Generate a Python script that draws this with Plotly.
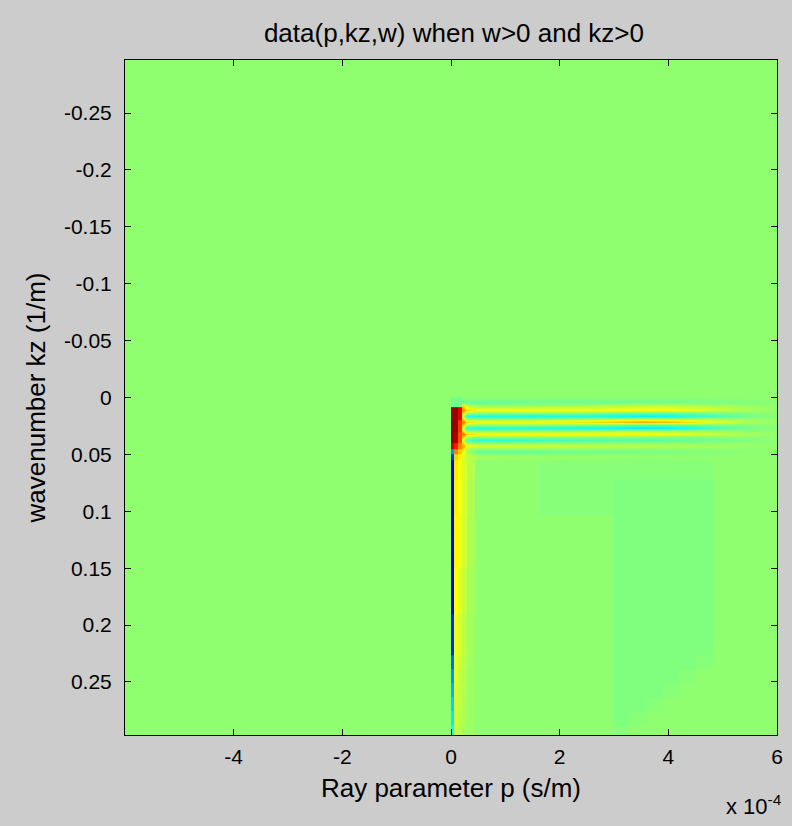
import plotly.graph_objects as go

# ---------------- data ----------------
# ray parameter p in units of 1e-4 s/m, wavenumber kz in 1/m
P_EDGES = [-6, 0, 0.06, 0.13, 0.2, 0.3, 0.45, 1.6, 3.0, 3.3, 3.6, 3.9, 4.2, 4.5, 4.83, 6]
KZ_EDGES = [-0.3, 0.0, 0.0085, 0.02, 0.03, 0.04, 0.045, 0.05, 0.055, 0.072, 0.103,
            0.15, 0.19, 0.226, 0.2383, 0.2507, 0.263, 0.2753, 0.2877, 0.3]
BASE_Z = [
    [0, 0, 0, 0, 0, 0, 0, 0, 0, 0, 0, 0, 0, 0, 0],
    [0, -0.06, -0.06, -0.06, 0, 0, 0, 0, 0, 0, 0, 0, 0, 0, 0],
    [0, 0.88, 0.9, 0.75, 0.3, 0, 0, 0, 0, 0, 0, 0, 0, 0, 0],
    [0, 0.9, 0.9, 0.6, 0.3, 0, 0, 0, 0, 0, 0, 0, 0, 0, 0],
    [0, 0.9, 0.85, 0.55, 0.3, 0, 0, 0, 0, 0, 0, 0, 0, 0, 0],
    [0, 0.8, 0.65, 0.45, 0.25, 0, 0, 0, 0, 0, 0, 0, 0, 0, 0],
    [0, -0.47, 0.45, 0.32, 0.2, 0.1, 0, 0, 0, 0, 0, 0, 0, 0, 0],
    [0, -0.65, 0.3, 0.24, 0.16, 0.08, 0, 0, 0, 0, 0, 0, 0, 0, 0],
    [0, -0.82, 0.25, 0.21, 0.14, 0.07, 0, -0.015, -0.015, -0.015, -0.015, -0.015, -0.015, -0.015, 0],
    [0, -0.86, 0.24, 0.2, 0.13, 0.06, 0, -0.015, -0.03, -0.03, -0.03, -0.03, -0.03, -0.03, 0],
    [0, -0.86, 0.23, 0.19, 0.12, 0.05, 0, 0, -0.03, -0.03, -0.03, -0.03, -0.03, -0.03, 0],
    [0, -0.8, 0.21, 0.16, 0.1, 0.04, 0, 0, -0.03, -0.03, -0.03, -0.03, -0.03, -0.03, 0],
    [0, -0.68, 0.18, 0.14, 0.08, 0.03, 0, 0, -0.03, -0.03, -0.03, -0.03, -0.03, -0.03, 0],
    [0, -0.56, 0.16, 0.12, 0.07, 0.03, 0, 0, -0.03, -0.03, -0.03, -0.03, -0.03, -0.015, 0],
    [0, -0.48, 0.15, 0.11, 0.06, 0.02, 0, 0, -0.03, -0.03, -0.03, -0.03, -0.015, 0, 0],
    [0, -0.42, 0.14, 0.1, 0.06, 0.02, 0, 0, -0.03, -0.03, -0.03, -0.015, 0, 0, 0],
    [0, -0.36, 0.13, 0.09, 0.05, 0.02, 0, 0, -0.03, -0.03, -0.015, 0, 0, 0, 0],
    [0, -0.31, 0.12, 0.08, 0.05, 0.02, 0, 0, -0.03, -0.015, 0, 0, 0, 0, 0],
    [0, -0.27, 0.11, 0.07, 0.04, 0.02, 0, 0, -0.015, 0, 0, 0, 0, 0, 0],
]

STRIPE_P = [0.23, 0.28, 0.5, 1.0, 1.5, 2.0, 2.5, 3.0, 3.5, 4.0, 4.5, 5.0, 5.4, 5.75, 6.0]
STRIPE_KZ = [0.0015, 0.004, 0.0075, 0.0105, 0.0133, 0.016, 0.0187, 0.0213, 0.024, 0.0267,
             0.0293, 0.032, 0.0347, 0.0373, 0.04, 0.0427, 0.0453, 0.048, 0.0507, 0.0533, 0.056]
STRIPE_Z = [
    [0.0, -0.02, -0.02, -0.02, -0.02, -0.02, -0.02, -0.02, -0.02, -0.02, -0.02, -0.01, -0.01, 0, 0],
    [-0.1, -0.1, -0.09, -0.08, -0.07, -0.07, -0.07, -0.07, -0.07, -0.06, -0.05, -0.04, -0.03, -0.02, -0.01],
    [0.3, 0.1, 0.03, 0.03, 0.04, 0.05, 0.06, 0.08, 0.1, 0.1, 0.08, 0.05, 0.03, 0.01, 0],
    [0.45, 0.3, 0.2, 0.2, 0.2, 0.2, 0.2, 0.21, 0.23, 0.22, 0.17, 0.11, 0.06, 0.03, 0.01],
    [0.3, 0.05, 0.0, 0.0, 0.0, 0.0, -0.02, -0.05, -0.08, -0.08, -0.06, -0.04, -0.02, -0.01, 0],
    [0.1, -0.2, -0.24, -0.25, -0.25, -0.24, -0.24, -0.26, -0.3, -0.28, -0.2, -0.12, -0.07, -0.03, -0.01],
    [0.3, 0.0, 0.0, 0.0, 0.0, 0.02, 0.04, 0.08, 0.12, 0.1, 0.07, 0.04, 0.02, 0.01, 0],
    [0.5, 0.32, 0.22, 0.22, 0.23, 0.25, 0.28, 0.33, 0.4, 0.36, 0.26, 0.15, 0.08, 0.04, 0.01],
    [0.35, 0.05, 0.0, 0.0, 0.0, -0.02, -0.04, -0.06, -0.1, -0.1, -0.07, -0.04, -0.02, -0.01, 0],
    [0.1, -0.18, -0.22, -0.22, -0.22, -0.24, -0.26, -0.28, -0.32, -0.3, -0.22, -0.12, -0.07, -0.03, -0.01],
    [0.3, 0.0, 0.0, 0.0, 0.0, 0.02, 0.03, 0.05, 0.07, 0.06, 0.04, 0.02, 0.01, 0, 0],
    [0.5, 0.32, 0.24, 0.24, 0.24, 0.24, 0.24, 0.24, 0.24, 0.2, 0.15, 0.1, 0.05, 0.03, 0.01],
    [0.35, 0.05, 0.0, 0.0, 0.0, 0, -0.01, -0.02, -0.03, -0.03, -0.02, -0.01, 0, 0, 0],
    [0.15, -0.12, -0.2, -0.2, -0.18, -0.16, -0.14, -0.12, -0.12, -0.1, -0.08, -0.05, -0.03, -0.02, 0],
    [0.3, 0.02, 0, 0, 0, 0, 0, 0, 0, 0, 0, 0, 0, 0, 0],
    [0.4, 0.22, 0.15, 0.14, 0.13, 0.12, 0.1, 0.09, 0.08, 0.07, 0.05, 0.03, 0.02, 0.01, 0],
    [0.3, 0.05, 0, 0, 0, 0, 0, 0, 0, 0, 0, 0, 0, 0, 0],
    [0.22, 0.05, -0.1, -0.09, -0.08, -0.07, -0.06, -0.05, -0.05, -0.04, -0.03, -0.02, -0.01, 0, 0],
    [0.18, 0.1, 0.02, 0.01, 0, 0, 0, 0, 0, 0, 0, 0, 0, 0, 0],
    [0.16, 0.1, 0.04, 0.03, 0.02, 0.02, 0.01, 0.01, 0, 0, 0, 0, 0, 0, 0],
    [0.15, 0.1, 0.0, 0, 0, -0.01, -0.01, -0.01, -0.01, -0.01, -0.01, 0, 0, 0, 0],
]

X_TICKS = [-4, -2, 0, 2, 4, 6]
Y_TICKS = [-0.25, -0.2, -0.15, -0.1, -0.05, 0, 0.05, 0.1, 0.15, 0.2, 0.25]
Y_TICKTEXT = ['-0.25', '-0.2', '-0.15', '-0.1', '-0.05', '0', '0.05', '0.1', '0.15', '0.2', '0.25']
X_RANGE = [-6, 6]
Y_RANGE = [0.2966, -0.2966]
C_MIN, C_MAX = -1.0, 0.94

# ---------------- style ----------------
JET = [[0.0, 'rgb(0,0,128)'], [0.125, 'rgb(0,0,255)'], [0.375, 'rgb(0,255,255)'],
       [0.625, 'rgb(255,255,0)'], [0.875, 'rgb(255,0,0)'], [1.0, 'rgb(128,0,0)']]
FONT = 'Liberation Sans, Arial, sans-serif'
TICK_SIZE = 21
LABEL_SIZE = 26
BG = '#cccccc'

fig = go.Figure()
fig.add_trace(go.Heatmap(x=P_EDGES, y=KZ_EDGES, z=BASE_Z, colorscale=JET,
                         zmin=C_MIN, zmax=C_MAX, showscale=False, zsmooth=False,
                         hoverinfo='skip'))
fig.add_trace(go.Heatmap(x=STRIPE_P, y=STRIPE_KZ, z=STRIPE_Z, colorscale=JET,
                         zmin=C_MIN, zmax=C_MAX, showscale=False, zsmooth='best',
                         hoverinfo='skip'))

axis_common = dict(showline=True, linecolor='black', linewidth=1, mirror='ticks',
                   ticks='inside', ticklen=6, tickcolor='black', showgrid=False,
                   zeroline=False, tickfont=dict(family=FONT, size=TICK_SIZE, color='black'))

fig.update_layout(
    width=792, height=826,
    margin=dict(l=125, r=9, t=60, b=91),
    paper_bgcolor=BG, plot_bgcolor=BG,
    title=dict(text='data(p,kz,w) when w>0 and kz>0', x=0.5732, xanchor='center',
               y=1 - 33 / 826, yanchor='middle',
               font=dict(family=FONT, size=LABEL_SIZE, color='black')),
    xaxis=dict(range=X_RANGE, tickvals=X_TICKS, ticktext=[str(v) for v in X_TICKS],
               ticklabelstandoff=3,
               title=dict(text='Ray parameter p (s/m)', standoff=11,
                          font=dict(family=FONT, size=LABEL_SIZE, color='black')),
               **axis_common),
    yaxis=dict(range=Y_RANGE, tickvals=Y_TICKS, ticktext=Y_TICKTEXT,
               ticklabelstandoff=8,
               title=dict(text='wavenumber kz (1/m)', standoff=10,
                          font=dict(family=FONT, size=LABEL_SIZE, color='black')),
               **axis_common),
    annotations=[dict(text='x 10<sup>-4</sup>', xref='paper', yref='paper',
                      x=1.0106, y=-0.1037, xanchor='right', yanchor='middle',
                      showarrow=False, font=dict(family=FONT, size=22, color='black'))],
)

fig.write_html('out.html')
